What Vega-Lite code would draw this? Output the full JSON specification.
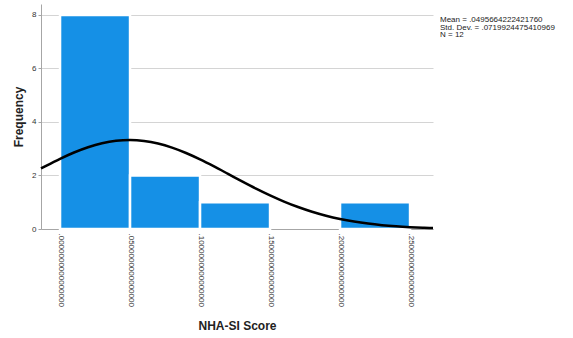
{
  "$schema": "https://vega.github.io/schema/vega-lite/v6.json",
  "width": 392,
  "height": 225,
  "autosize": {"type": "none"},
  "padding": {"left": 41, "top": 4, "right": 140, "bottom": 109},
  "background": "white",
  "config": {
    "view": {"stroke": null},
    "font": "Liberation Sans"
  },
  "datasets": {
    "bins": [
      {"bin_start": 0.0, "bin_end": 0.05, "count": 8},
      {"bin_start": 0.05, "bin_end": 0.10, "count": 2},
      {"bin_start": 0.10, "bin_end": 0.15, "count": 1},
      {"bin_start": 0.20, "bin_end": 0.25, "count": 1}
    ],
    "normal": [
      {"score": -0.0136, "freq": 2.2626},
      {"score": -0.01, "freq": 2.3611},
      {"score": 0.00, "freq": 2.6232},
      {"score": 0.01, "freq": 2.8588},
      {"score": 0.02, "freq": 3.0560},
      {"score": 0.03, "freq": 3.2043},
      {"score": 0.04, "freq": 3.2957},
      {"score": 0.05, "freq": 3.3248},
      {"score": 0.06, "freq": 3.2902},
      {"score": 0.07, "freq": 3.1936},
      {"score": 0.08, "freq": 3.0407},
      {"score": 0.09, "freq": 2.8398},
      {"score": 0.10, "freq": 2.6014},
      {"score": 0.11, "freq": 2.3376},
      {"score": 0.12, "freq": 2.0603},
      {"score": 0.13, "freq": 1.7812},
      {"score": 0.14, "freq": 1.5106},
      {"score": 0.15, "freq": 1.2565},
      {"score": 0.16, "freq": 1.0252},
      {"score": 0.17, "freq": 0.8205},
      {"score": 0.18, "freq": 0.6441},
      {"score": 0.19, "freq": 0.4960},
      {"score": 0.20, "freq": 0.3746},
      {"score": 0.21, "freq": 0.2776},
      {"score": 0.22, "freq": 0.2017},
      {"score": 0.23, "freq": 0.1438},
      {"score": 0.24, "freq": 0.1006},
      {"score": 0.25, "freq": 0.0690},
      {"score": 0.26, "freq": 0.0464},
      {"score": 0.2664, "freq": 0.0356}
    ],
    "stats": [
      {"text": ["Mean = .0495664222421760", "Std. Dev. = .0719924475410969", "N = 12"]}
    ]
  },
  "layer": [
    {
      "data": {"name": "bins"},
      "mark": {"type": "bar", "color": "#1590e6", "stroke": "white", "strokeWidth": 2.5},
      "encoding": {
        "x": {
          "field": "bin_start",
          "type": "quantitative",
          "scale": {"domain": [-0.0136, 0.2664], "nice": false, "zero": false},
          "axis": {
            "title": "NHA-SI Score",
            "values": [0, 0.05, 0.1, 0.15, 0.2, 0.25],
            "labelExpr": "substring(format(datum.value, '.16f'), 1)",
            "labelAngle": 90,
            "labelAlign": "left",
            "labelBaseline": "middle",
            "labelFontSize": 8,
            "labelColor": "#333333",
            "labelPadding": 4,
            "domainColor": "#a6a6a6",
            "ticks": false,
            "grid": false,
            "titleFontSize": 12,
            "titleFontWeight": "bold",
            "titleColor": "#222222",
            "titleY": 96,
            "titleBaseline": "middle"
          }
        },
        "x2": {"field": "bin_end"},
        "y": {
          "field": "count",
          "type": "quantitative",
          "scale": {"domain": [0, 8.41], "nice": false},
          "axis": {
            "title": "Frequency",
            "values": [0, 2, 4, 6, 8],
            "labelFontSize": 8,
            "labelColor": "#333333",
            "labelPadding": 2,
            "domainColor": "#a6a6a6",
            "tickColor": "#a6a6a6",
            "tickSize": 3,
            "grid": true,
            "gridColor": "#d4d4d4",
            "gridWidth": 1,
            "titleFontSize": 12,
            "titleFontWeight": "bold",
            "titleColor": "#222222",
            "titleX": -23,
            "titleBaseline": "middle"
          }
        },
        "y2": {"datum": 0}
      }
    },
    {
      "data": {"name": "normal"},
      "mark": {"type": "line", "color": "black", "strokeWidth": 2.5, "interpolate": "monotone"},
      "encoding": {
        "x": {"field": "score", "type": "quantitative"},
        "y": {"field": "freq", "type": "quantitative"}
      }
    },
    {
      "data": {"name": "stats"},
      "mark": {"type": "text", "align": "left", "baseline": "top", "fontSize": 8, "lineHeight": 7.5, "color": "#222222", "dx": 7},
      "encoding": {
        "x": {"datum": 0.2664, "type": "quantitative"},
        "y": {"datum": 7.95, "type": "quantitative"},
        "text": {"field": "text"}
      }
    }
  ]
}
